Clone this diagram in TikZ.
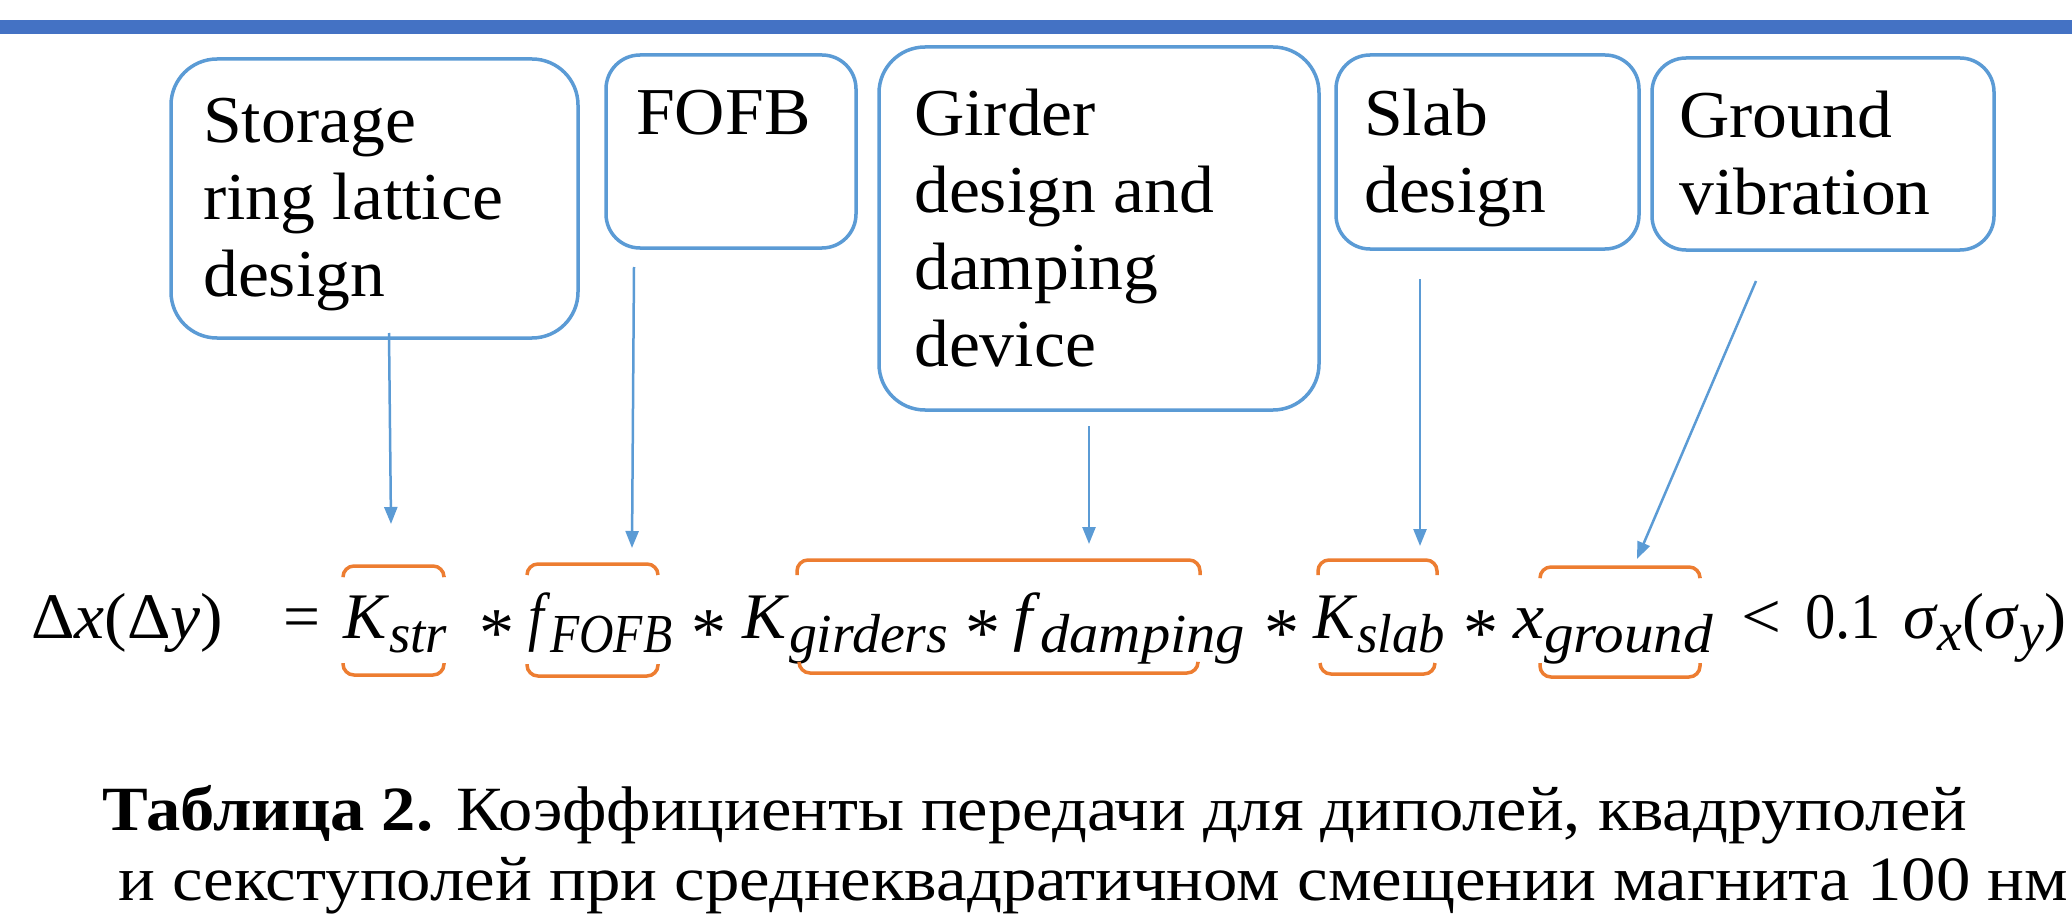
\documentclass[tikz,border=0pt]{standalone}
\usepackage{fontspec}
\setmainfont{Liberation Serif}
\usepackage{graphicx}
\usetikzlibrary{arrows.meta}
\definecolor{barblue}{HTML}{4472C4}
\definecolor{boxblue}{HTML}{5B9BD5}
\definecolor{brorange}{HTML}{ED7D31}
\newcommand\fitw[2]{\resizebox{#1pt}{\height}{#2}}
\newcommand\lowr[2][14]{\raisebox{-#1pt}{\fontsize{55}{60}\selectfont\textit{#2}}}
\newcommand\blines[1]{\scalebox{1.04}[1]{\begin{tabular}[t]{@{}l@{}}#1\end{tabular}}}
\tikzset{
  bigbox/.style={draw=boxblue, line width=3.5pt, rounded corners=46pt, inner sep=0pt, outer sep=0pt, anchor=north west},
  smallbox/.style={draw=boxblue, line width=3.5pt, rounded corners=34pt, inner sep=0pt, outer sep=0pt, anchor=north west},
  btext/.style={anchor=base west, inner sep=0pt, font=\fontsize{67}{77}\selectfont},
  arr/.style={draw=boxblue, line width=2.5pt, -{Triangle[length=17pt,width=13pt]}},
  brk/.style={draw=brorange, line width=3.5pt, rounded corners=11pt},
  eqn/.style={anchor=base west, inner sep=0pt, font=\fontsize{65}{70}\selectfont},
  astr/.style={anchor=base, inner sep=0pt, font=\fontsize{70}{70}\selectfont},
  capt/.style={anchor=base west, inner sep=0pt, font=\fontsize{63}{70}\selectfont}
}
\begin{document}
\begin{tikzpicture}[x=1pt,y=-1pt]
\useasboundingbox (0,0) rectangle (2072,920);
\fill[white] (0,0) rectangle (2072,920);
% top bar
\fill[barblue] (0,20) rectangle (2072,34);

% boxes
\node[bigbox, minimum width=407pt, minimum height=279pt] (b1) at (171,59) {};
\node[smallbox, minimum width=250pt, minimum height=193pt] (b2) at (606,55) {};
\node[bigbox, minimum width=440pt, minimum height=363pt] (b3) at (879,47) {};
\node[smallbox, minimum width=303pt, minimum height=194pt] (b4) at (1336,55) {};
\node[smallbox, minimum width=342pt, minimum height=192pt] (b5) at (1652,58) {};

% box texts
\node[btext] (t1) at (203,143) {\blines{Storage\\ring lattice\\design}};
\node[btext] (t2) at (636,135) {\blines{FOFB}};
\node[btext] (t3) at (914,136) {\blines{Girder\\design and\\damping\\device}};
\node[btext] (t4) at (1364,136) {\blines{Slab\\design}};
\node[btext] (t5) at (1679,138) {\blines{Ground\\vibration}};

% arrows
\coordinate (a1s) at (389,333); \coordinate (a1e) at (391,524);
\coordinate (a2s) at (634,267); \coordinate (a2e) at (632,548);
\coordinate (a3s) at (1089,426); \coordinate (a3e) at (1089,544);
\coordinate (a4s) at (1420,279); \coordinate (a4e) at (1420,546);
\coordinate (a5s) at (1756,281); \coordinate (a5e) at (1637,559);
\draw[arr] (a1s) -- (a1e);
\draw[arr] (a2s) -- (a2e);
\draw[arr] (a3s) -- (a3e);
\draw[arr] (a4s) -- (a4e);
\draw[arr] (a5s) -- (a5e);

% equation
\node[eqn] (lhs) at (31,638) {\fitw{192}{Δ\textit{x}(Δ\textit{y})}};
\node[eqn] (eqs) at (283,638) {\fitw{37}{=}};
\node[eqn] (kstr) at (343,638) {\fitw{104}{\textit{K}\lowr{str}}};
\node[eqn] (ffofb) at (528,638) {\fitw{144}{\textit{f}\lowr{FOFB}}};
\node[eqn] (kgird) at (742,638) {\fitw{206}{\textit{K}\lowr{girders}}};
\node[eqn] (fdamp) at (1013,638) {\fitw{232}{\textit{f}\lowr{damping}}};
\node[eqn] (kslab) at (1313,638) {\fitw{132}{\textit{K}\lowr{slab}}};
\node[eqn] (xgr) at (1513,638) {\fitw{200}{\textit{x}\lowr{ground}}};
\node[eqn] (lt) at (1741,638) {\fitw{40}{<}};
\node[eqn] (num) at (1805,638) {\fitw{76}{0.1}};
\node[eqn] (sig) at (1903,638) {\fitw{163}{\textit{σ}\lowr[12]{x}(\textit{σ}\lowr[12]{y})}};
\node[astr] (m1) at (497,656) {*};
\node[astr] (m2) at (709,656) {*};
\node[astr] (m3) at (983,656) {*};
\node[astr] (m4) at (1282,656) {*};
\node[astr] (m5) at (1481,656) {*};

% brackets
\draw[brk] (343,576) |- (393,566) -| (444,576);
\draw[brk] (343,663) |- (393,675) -| (444,663);
\draw[brk] (527,575) |- (592,564) -| (658,575);
\draw[brk] (527,664) |- (592,676) -| (658,664);
\draw[brk] (797,575) |- (998,560) -| (1200,575);
\draw[brk] (799,663) |- (998,673) -| (1198,663);
\draw[brk] (1318,575) |- (1377,560) -| (1437,575);
\draw[brk] (1320,663) |- (1377,674) -| (1435,663);
\draw[brk] (1540,577) |- (1620,567) -| (1700,577);
\draw[brk] (1540,663) |- (1620,677) -| (1700,663);

% caption
\node[capt] (cap1) at (102,830) {\fitw{1865}{\textbf{Таблица 2.} Коэффициенты передачи для диполей, квадруполей}};
\node[capt] (cap2) at (118,900) {\fitw{1950}{и секступолей при среднеквадратичном смещении магнита 100 нм}};
\end{tikzpicture}
\end{document}
